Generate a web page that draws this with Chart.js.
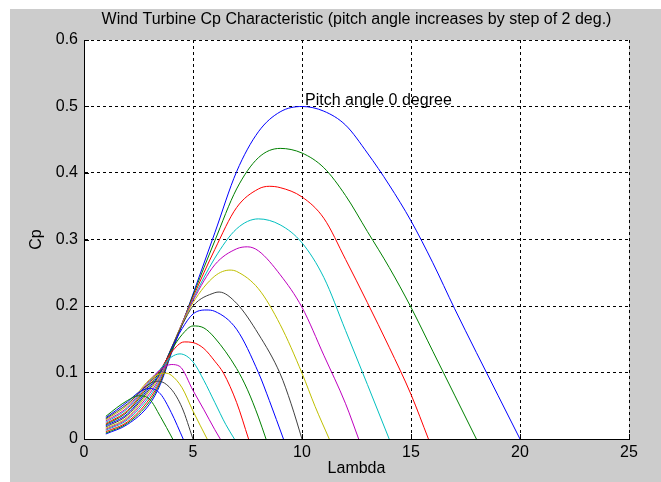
<!DOCTYPE html>
<html>
<head>
<meta charset="utf-8">
<title>Wind Turbine Cp Characteristic</title>
<script src="https://cdn.jsdelivr.net/npm/chart.js@4.4.0/dist/chart.umd.min.js"></script>
<style>
  html, body { margin: 0; padding: 0; background: #fff; }
  canvas { display: block; }
</style>
</head>
<body>
<canvas id="cpChart" width="661" height="482"></canvas>
<script>
// Cp(lambda) curves, one per pitch angle

const chartTitle = 'Wind Turbine Cp Characteristic (pitch angle increases by step of 2 deg.)';
const xLabel = 'Lambda';
const yLabel = 'Cp';
const noteText = 'Pitch angle 0 degree';

const xTicks = [0, 5, 10, 15, 20, 25];
const yTicks = [0, 0.1, 0.2, 0.3, 0.4, 0.5, 0.6];
const pitchAngles = [0, 2, 4, 6, 8, 10, 12, 14, 16, 18, 20, 22, 24, 26, 28, 30];

const lambdaP0  = [1, 2, 3, 3.5, 4, 4.5, 5, 6, 7, 8, 9, 10, 11, 12, 13, 14, 15, 16, 17, 18, 19, 20];
const cpP0      = [0.0075, 0.022, 0.052, 0.082, 0.128, 0.172, 0.218, 0.31, 0.402, 0.462, 0.492, 0.5, 0.493, 0.472, 0.43, 0.382, 0.328, 0.265, 0.196, 0.13, 0.065, 0];

const lambdaP2  = [1, 2, 3, 3.5, 4, 4.5, 5, 6, 7, 8, 9, 10, 11, 12, 13, 14, 15, 16, 17, 18];
const cpP2      = [0.009, 0.024, 0.056, 0.085, 0.13, 0.173, 0.216, 0.298, 0.376, 0.423, 0.437, 0.43, 0.408, 0.366, 0.312, 0.258, 0.198, 0.132, 0.066, 0];

const lambdaP4  = [1, 2, 3, 3.5, 4, 4.5, 5, 6, 7, 8, 8.5, 9, 10, 11, 12, 13, 14, 15, 15.8];
const cpP4      = [0.011, 0.026, 0.06, 0.088, 0.132, 0.174, 0.213, 0.285, 0.348, 0.376, 0.38, 0.378, 0.364, 0.332, 0.27, 0.205, 0.138, 0.067, 0];

const lambdaP6  = [1, 2, 3, 3.5, 4, 4.5, 5, 6, 7, 8, 9, 10, 11, 12, 13, 14];
const cpP6      = [0.013, 0.029, 0.064, 0.091, 0.134, 0.174, 0.21, 0.272, 0.316, 0.331, 0.322, 0.295, 0.243, 0.163, 0.082, 0];

const lambdaP8  = [1, 2, 3, 3.5, 4, 4.5, 5, 6, 7, 7.5, 8, 9, 10, 11, 12, 12.6];
const cpP8      = [0.0145, 0.031, 0.068, 0.094, 0.135, 0.174, 0.208, 0.262, 0.286, 0.289, 0.283, 0.247, 0.198, 0.126, 0.053, 0];

const lambdaP10 = [1, 2, 3, 3.5, 4, 4.5, 5, 6, 6.7, 7, 8, 9, 10, 10.6, 11.25];
const cpP10     = [0.016, 0.033, 0.072, 0.097, 0.136, 0.173, 0.205, 0.245, 0.254, 0.252, 0.226, 0.172, 0.099, 0.049, 0];

const lambdaP12 = [1, 2, 3, 3.5, 4, 4.5, 5, 6, 6.2, 7, 8, 9, 9.5, 10];
const cpP12     = [0.018, 0.036, 0.075, 0.099, 0.136, 0.171, 0.2, 0.22, 0.221, 0.204, 0.158, 0.098, 0.053, 0];

const lambdaP14 = [1, 2, 3, 3.5, 4, 4.5, 5, 5.6, 6, 7, 8, 8.5, 9.15];
const cpP14     = [0.02, 0.038, 0.078, 0.1, 0.135, 0.166, 0.188, 0.194, 0.192, 0.165, 0.1, 0.058, 0];

const lambdaP16 = [1, 2, 3, 3.5, 4, 4.5, 5, 5.5, 6, 7, 7.5, 8, 8.35];
const cpP16     = [0.0215, 0.041, 0.081, 0.102, 0.133, 0.157, 0.17, 0.167, 0.152, 0.106, 0.074, 0.033, 0];

const lambdaP18 = [1, 2, 3, 3.5, 4, 4.6, 5, 5.5, 6, 6.4, 7, 7.55];
const cpP18     = [0.023, 0.043, 0.084, 0.104, 0.13, 0.146, 0.145, 0.136, 0.117, 0.099, 0.055, 0];

const lambdaP20 = [1, 2, 3, 3.5, 4, 4.4, 5, 5.5, 6, 6.5, 6.9];
const cpP20     = [0.025, 0.046, 0.086, 0.105, 0.123, 0.128, 0.116, 0.088, 0.055, 0.022, 0];

const lambdaP22 = [1, 2, 3, 3.5, 4, 4.4, 5, 5.5, 6, 6.25];
const cpP22     = [0.027, 0.048, 0.088, 0.104, 0.112, 0.109, 0.073, 0.044, 0.014, 0];

const lambdaP24 = [1, 2, 3, 3.5, 3.75, 4, 4.5, 5, 5.65];
const cpP24     = [0.029, 0.051, 0.089, 0.098, 0.099, 0.096, 0.077, 0.042, 0];

const lambdaP26 = [1, 2, 3, 3.4, 4, 4.5, 5];
const cpP26     = [0.0305, 0.053, 0.083, 0.087, 0.075, 0.047, 0];

const lambdaP28 = [1, 2, 2.5, 3, 3.5, 4, 4.55];
const cpP28     = [0.032, 0.056, 0.07, 0.076, 0.068, 0.04, 0];

const lambdaP30 = [1, 1.5, 2, 2.5, 3, 3.5, 4.07];
const cpP30     = [0.034, 0.047, 0.058, 0.065, 0.06, 0.034, 0];

const lambdaSets = [lambdaP0, lambdaP2, lambdaP4, lambdaP6, lambdaP8, lambdaP10, lambdaP12, lambdaP14,
                    lambdaP16, lambdaP18, lambdaP20, lambdaP22, lambdaP24, lambdaP26, lambdaP28, lambdaP30];
const cpSets = [cpP0, cpP2, cpP4, cpP6, cpP8, cpP10, cpP12, cpP14,
                cpP16, cpP18, cpP20, cpP22, cpP24, cpP26, cpP28, cpP30];

// matlab's old colour order: b g r c m y k
const lineColors = ['#0000ff', '#008000', '#ff0000', '#00bfbf', '#bf00bf', '#bfbf00', '#404040'];

const FONT = "'Liberation Sans', Arial, sans-serif";
const FONT_SIZE = 16;

const datasets = pitchAngles.map((p, i) => ({
  label: 'Pitch ' + p + ' deg',
  data: lambdaSets[i].map((x, k) => ({ x: x, y: cpSets[i][k] })),
  borderColor: lineColors[i % lineColors.length],
  borderWidth: 1,
  pointRadius: 0,
  showLine: true,
  fill: false,
  cubicInterpolationMode: 'monotone',
  order: pitchAngles.length - i
}));

// grey figure background + white axes box
const backdrop = {
  id: 'backdrop',
  beforeDraw(chart){
    const { ctx, chartArea: a, width, height } = chart;
    ctx.save();
    ctx.fillStyle = '#ffffff';
    ctx.fillRect(0, 0, width, height);
    ctx.fillStyle = '#cccccc';
    ctx.fillRect(10, 9, width - 10, height - 9);
    ctx.fillStyle = '#ffffff';
    ctx.fillRect(a.left, a.top, a.right - a.left, a.bottom - a.top);
    ctx.restore();
  }
};

// title over the axes, inward ticks, and the text note
const extras = {
  id: 'extras',
  afterDraw(chart){
    const { ctx, chartArea: a, scales } = chart;
    const xs = scales.x, ys = scales.y;
    ctx.save();
    ctx.font = FONT_SIZE + 'px ' + FONT;
    ctx.fillStyle = '#000';
    ctx.textAlign = 'center';
    ctx.textBaseline = 'middle';
    ctx.fillText(chartTitle, (a.left + a.right) / 2, 20);

    // inward tick marks
    ctx.strokeStyle = '#000';
    ctx.lineWidth = 1;
    ctx.beginPath();
    xTicks.forEach(v => {
      const px = Math.round(xs.getPixelForValue(v)) + 0.5;
      ctx.moveTo(px, a.bottom); ctx.lineTo(px, a.bottom - 5);
    });
    yTicks.forEach(v => {
      const py = Math.round(ys.getPixelForValue(v)) + 0.5;
      ctx.moveTo(a.left, py); ctx.lineTo(a.left + 5, py);
    });
    ctx.stroke();

    ctx.textAlign = 'left';
    ctx.textBaseline = 'alphabetic';
    ctx.fillText(noteText, xs.getPixelForValue(10) + 3, ys.getPixelForValue(0.5) - 2);
    ctx.restore();
  }
};

const ctx = document.getElementById('cpChart').getContext('2d');
const cpChart = new Chart(ctx, {
  type: 'scatter',
  data: { datasets },
  options: {
    responsive: false,
    devicePixelRatio: 1,
    animation: false,
    layout: { padding: { top: 40, right: 32, left: 0, bottom: 0 } },
    plugins: {
      legend: { display: false },
      tooltip: { enabled: false },
      title: { display: false }
    },
    scales: {
      x: {
        type: 'linear', min: 0, max: 25,
        afterFit: s => { s.height = 43; },
        afterBuildTicks: s => { s.ticks = xTicks.map(v => ({ value: v })); },
        ticks: { color: '#000', padding: 4, font: { family: FONT, size: FONT_SIZE }, callback: v => String(v) },
        grid: { color: '#000', lineWidth: 1, drawTicks: false },
        border: { color: '#000', width: 1, dash: [3, 3] },
        title: { display: true, text: xLabel, color: '#000', font: { family: FONT, size: FONT_SIZE }, padding: { top: 0, bottom: 4 } }
      },
      y: {
        type: 'linear', min: 0, max: 0.6,
        afterFit: s => { s.width = 84; },
        afterBuildTicks: s => { s.ticks = yTicks.map(v => ({ value: v })); },
        ticks: { color: '#000', padding: 6, font: { family: FONT, size: FONT_SIZE }, callback: v => String(+v.toFixed(1)) },
        grid: { color: '#000', lineWidth: 1, drawTicks: false },
        border: { color: '#000', width: 1, dash: [3, 3] },
        title: { display: true, text: yLabel, color: '#000', font: { family: FONT, size: FONT_SIZE }, padding: { top: 27, bottom: 0 } }
      }
    }
  },
  plugins: [backdrop, extras]
});
</script>
</body>
</html>
